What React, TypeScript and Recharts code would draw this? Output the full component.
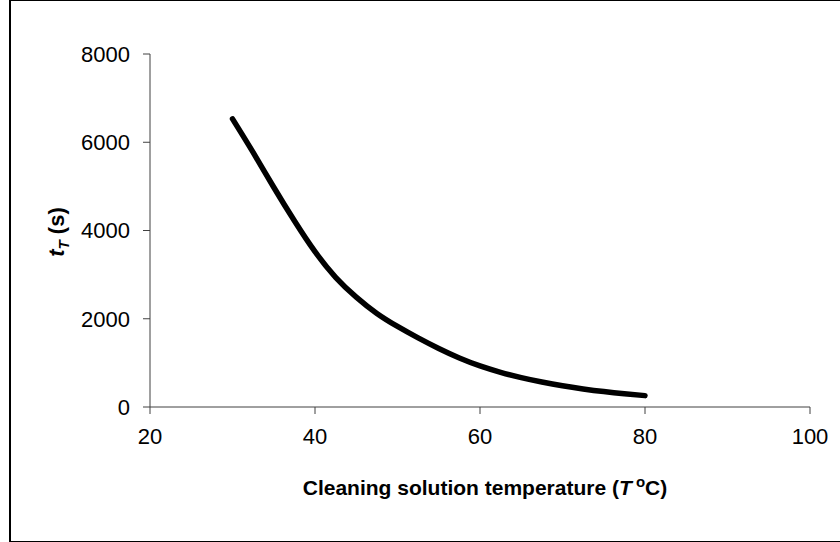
import { Label, Line, LineChart, XAxis, YAxis } from "recharts";

const temperature = [30, 32.5, 35, 37.5, 40, 42.5, 45, 47.5, 50, 52.5, 55, 57.5, 60, 62.5, 65, 67.5, 70, 72.5, 75, 77.5, 80];
const time = [6530, 5770, 4980, 4220, 3520, 2940, 2490, 2120, 1825, 1565, 1325, 1110, 930, 785, 665, 565, 480, 410, 350, 300, 258];
const xTicks = [20, 40, 60, 80, 100];
const yTicks = [0, 2000, 4000, 6000, 8000];

const data = temperature.map((t, i) => ({ t, value: time[i] }));

const font = "'Liberation Sans', Arial, sans-serif";
const axisColor = "#404040";

function XTitle() {
  return (
    <text x={485} y={495} textAnchor="middle" fontFamily={font} fontWeight="bold" fontSize={21} fill="#000">
      Cleaning solution temperature (
      <tspan fontStyle="italic">T</tspan>
      <tspan dy={-8} fontSize={15}> o</tspan>
      <tspan dy={8}>C)</tspan>
    </text>
  );
}

function YTitle() {
  return (
    <text transform="translate(64,232) rotate(-90)" x={0} y={0} textAnchor="middle" fontFamily={font} fontWeight="bold" fontSize={22} fill="#000">
      <tspan fontStyle="italic">t</tspan>
      <tspan fontStyle="italic" fontSize={15} dy={5}>T</tspan>
      <tspan dy={-5}> (s)</tspan>
    </text>
  );
}

export default function App() {
  return (
    <div style={{ position: "absolute", left: 0, top: 0, width: 840, height: 542, background: "#fff" }}>
      <div
        style={{
          position: "absolute",
          left: 9,
          top: 0,
          width: 829,
          height: 540,
          borderLeft: "2px solid #000",
          borderTop: "1px solid #000",
          borderRight: "1px solid #000",
          borderBottom: "1px solid #000"
        }}
      />
      <LineChart width={840} height={542} data={data} margin={{ top: 54, right: 30, bottom: 0, left: 0 }} style={{ position: "absolute", left: 0, top: 0 }}>
        <XAxis
          dataKey="t"
          type="number"
          domain={[20, 100]}
          ticks={xTicks}
          height={135}
          stroke={axisColor}
          tickSize={7}
          tickMargin={14}
          tick={{ fill: "#000", fontSize: 22, fontFamily: font }}
        >
          <Label content={XTitle} />
        </XAxis>
        <YAxis
          type="number"
          domain={[0, 8000]}
          ticks={yTicks}
          width={150}
          stroke={axisColor}
          tickSize={7}
          tickMargin={13}
          tick={{ fill: "#000", fontSize: 22, fontFamily: font }}
        >
          <Label content={YTitle} />
        </YAxis>
        <Line
          type="natural"
          dataKey="value"
          stroke="#000"
          strokeWidth={5.5}
          strokeLinecap="round"
          dot={false}
          isAnimationActive={false}
        />
      </LineChart>
    </div>
  );
}
